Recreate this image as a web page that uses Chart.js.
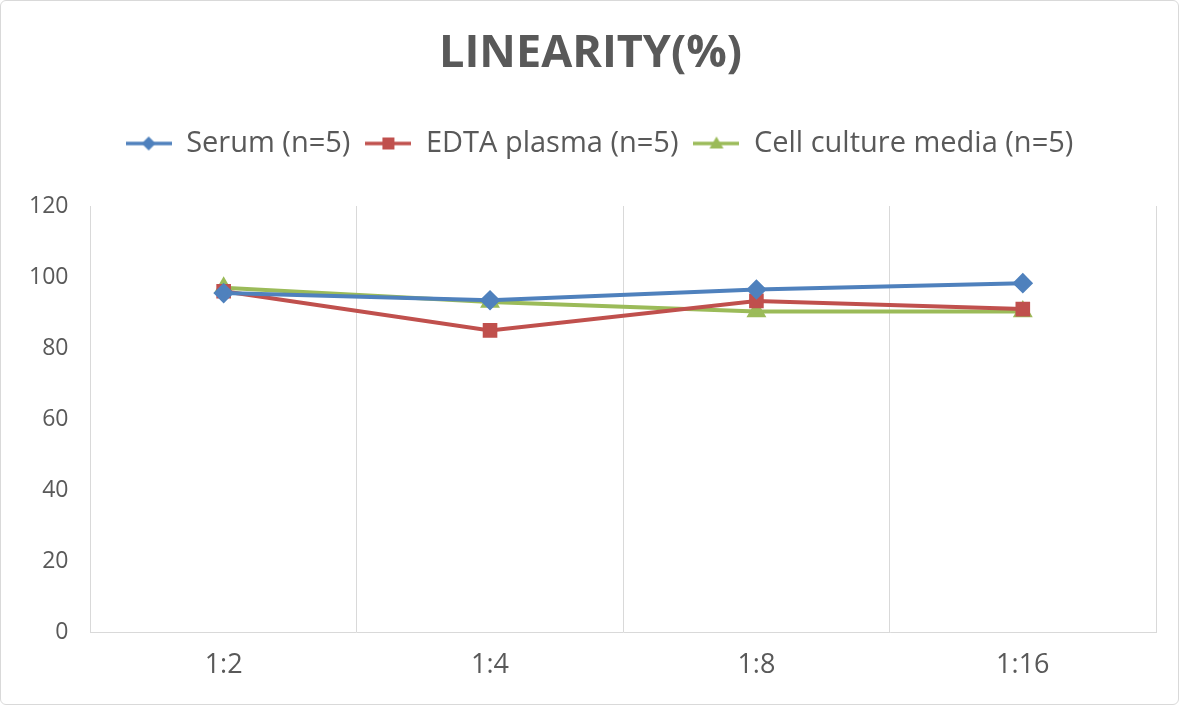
<!DOCTYPE html>
<html>
<head>
<meta charset="utf-8">
<script src="https://cdn.jsdelivr.net/npm/chart.js@4.4.1/dist/chart.umd.min.js"></script>
<style>
  html, body { margin: 0; padding: 0; background: #fff; }
  #wrap { position: relative; width: 1179px; height: 705px; box-sizing: border-box;
          border: 1px solid #d9d9d9; border-radius: 6px; }
  canvas { display: block; }
</style>
</head>
<body>
<div id="wrap"><canvas id="linChart" width="1177" height="703"></canvas></div>
<script>
const dilutions = ['1:2', '1:4', '1:8', '1:16'];
const serumValues = [95.5, 93.5, 96.5, 98.3];
const edtaValues = [96, 85, 93.3, 91];
const cellValues = [97, 93, 90.3, 90.3];
const yTicks = [0, 20, 40, 60, 80, 100, 120];

const blue = '#4f81bd';
const red = '#c0504d';
const green = '#9bbb59';
const grey = '#595959';

// small legend icon: line with the marker on top
function legendIcon(color, shape) {
    const c = document.createElement('canvas');
    c.width = 46; c.height = 20;
    const g = c.getContext('2d');
    g.strokeStyle = color; g.lineWidth = 3.5;
    g.beginPath(); g.moveTo(0, 10); g.lineTo(46, 10); g.stroke();
    g.fillStyle = color;
    g.beginPath();
    if (shape === 'diamond') {
        g.moveTo(23, 3); g.lineTo(30, 10); g.lineTo(23, 17); g.lineTo(16, 10);
    } else if (shape === 'square') {
        g.rect(17, 4, 12, 12);
    } else {
        g.moveTo(23, 3); g.lineTo(30, 15); g.lineTo(16, 15);
    }
    g.closePath(); g.fill();
    return c;
}

const icons = [legendIcon(blue, 'diamond'), legendIcon(red, 'square'), legendIcon(green, 'triangle')];

// push plot area down below the legend, nudge legend/title like the original
const legendSpace = {
    id: 'legendSpace',
    beforeInit(chart) {
        const origFit = chart.legend.fit;
        chart.legend.fit = function () {
            origFit.bind(chart.legend)();
            this.height += 38;
        };
    },
    afterLayout(chart) {
        chart.legend.left += 14;
        chart.legend.right += 14;
        const t = chart.titleBlock;
        if (t) { t.left += 5; t.right += 5; }
    }
};

const ctx = document.getElementById('linChart').getContext('2d');
let linChart = new Chart(ctx, {
    type: 'line',
    data: {
        labels: dilutions,
        datasets: [{
            label: 'Serum (n=5)',
            data: serumValues,
            borderColor: blue,
            backgroundColor: blue,
            borderWidth: 4,
            pointStyle: 'rectRot',
            pointRadius: 7.5,
            pointHoverRadius: 7.5
        }, {
            label: 'EDTA plasma (n=5)',
            data: edtaValues,
            borderColor: red,
            backgroundColor: red,
            borderWidth: 4,
            pointStyle: 'rect',
            pointRadius: 7.5,
            pointHoverRadius: 7.5
        }, {
            label: 'Cell culture media (n=5)',
            data: cellValues,
            borderColor: green,
            backgroundColor: green,
            borderWidth: 4,
            pointStyle: 'triangle',
            pointRadius: 7.5,
            pointHoverRadius: 7.5
        }]
    },
    options: {
        responsive: false,
        animation: false,
        layout: { padding: { left: 14, right: 22, top: 10, bottom: 5 } },
        plugins: {
            title: {
                display: true,
                text: 'LINEARITY(%)',
                color: grey,
                font: { family: 'Open Sans', size: 45, weight: 'bold' },
                padding: { top: 16, bottom: 33 }
            },
            legend: {
                position: 'top',
                labels: {
                    usePointStyle: true,
                    pointStyleWidth: 46,
                    color: grey,
                    font: { family: 'Open Sans', size: 29 },
                    padding: 15,
                    generateLabels: (chart) => chart.data.datasets.map((ds, i) => ({
                        text: ds.label,
                        pointStyle: icons[i],
                        fillStyle: ds.borderColor,
                        strokeStyle: ds.borderColor,
                        fontColor: grey,
                        lineWidth: 0,
                        datasetIndex: i
                    }))
                }
            },
            tooltip: { enabled: false }
        },
        scales: {
            x: {
                offset: true,
                grid: { offset: true, color: '#d9d9d9', lineWidth: 1, drawTicks: false },
                border: { display: true, color: '#d9d9d9' },
                ticks: { color: grey, font: { family: 'Open Sans', size: 27 }, padding: 17 }
            },
            y: {
                min: 0,
                max: 120,
                afterBuildTicks: (axis) => { axis.ticks = yTicks.map(v => ({ value: v })); },
                grid: { display: false },
                border: { display: false },
                ticks: { color: grey, font: { family: 'Open Sans', size: 23 }, padding: 14 }
            }
        }
    },
    plugins: [legendSpace]
});
</script>
</body>
</html>
